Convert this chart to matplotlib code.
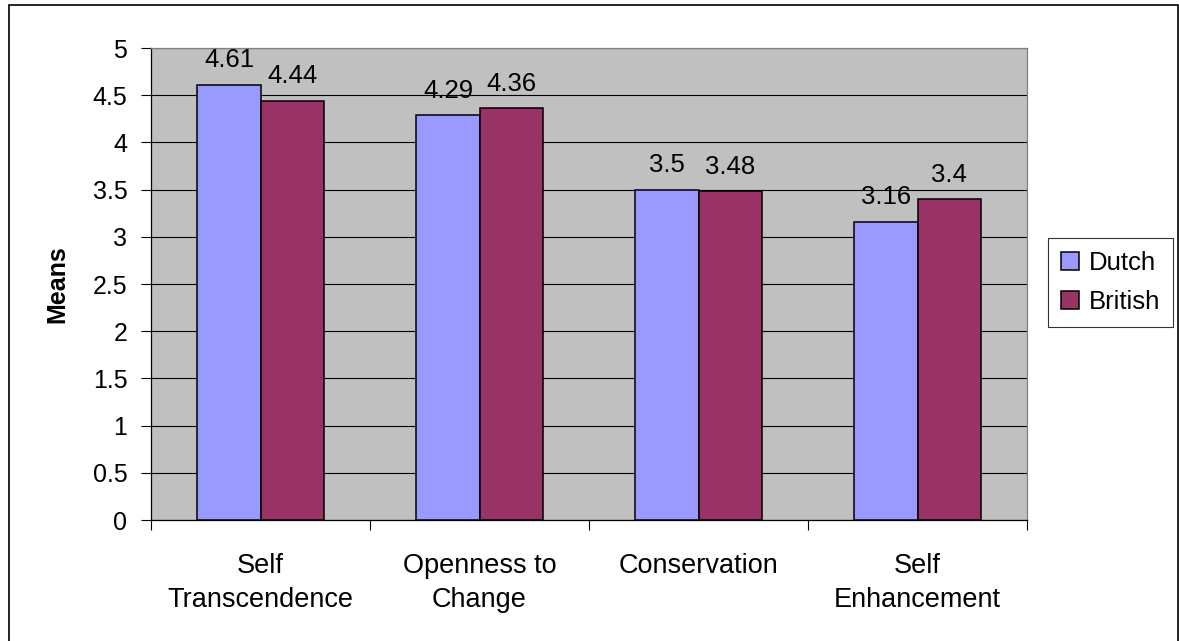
import numpy as np
import matplotlib.pyplot as plt
from matplotlib.patches import Rectangle

plt.rcParams['font.family'] = ['Liberation Sans', 'DejaVu Sans']

categories = ['Self\nTranscendence', 'Openness to\nChange', 'Conservation', 'Self\nEnhancement']
dutch = [4.61, 4.29, 3.5, 3.16]
british = [4.44, 4.36, 3.48, 3.4]
value_labels_dutch = ['4.61', '4.29', '3.5', '3.16']
value_labels_british = ['4.44', '4.36', '3.48', '3.4']
yticks = [0, 0.5, 1, 1.5, 2, 2.5, 3, 3.5, 4, 4.5, 5]
ytick_labels = ['0', '0.5', '1', '1.5', '2', '2.5', '3', '3.5', '4', '4.5', '5']

FS = 18
W, H = 1179, 641
fig = plt.figure(figsize=(W / 100, H / 100), dpi=100)
ax = fig.add_axes([151 / W, 1 - 520 / H, (1027 - 151) / W, (520 - 48) / H])

# outer chart border
fig.patches.append(Rectangle((9 / W, -0.01), (1178 - 9) / W, 1 - 5 / H + 0.01,
                             transform=fig.transFigure, fill=False,
                             edgecolor='black', linewidth=1.2))

x = np.arange(len(categories))
bw = 0.288
b1 = ax.bar(x - bw / 2, dutch, bw, color='#9999FF', edgecolor='black', linewidth=1.1,
            label='Dutch', zorder=3)
b2 = ax.bar(x + bw / 2, british, bw, color='#993366', edgecolor='black', linewidth=1.1,
            label='British', zorder=3)

for rect, txt in zip(b1, value_labels_dutch):
    ax.annotate(txt, (rect.get_x() + rect.get_width() / 2, rect.get_height()),
                xytext=(0, 9), textcoords='offset points', ha='center', va='bottom',
                fontsize=FS + 0.5)
for rect, txt in zip(b2, value_labels_british):
    ax.annotate(txt, (rect.get_x() + rect.get_width() / 2, rect.get_height()),
                xytext=(0, 9), textcoords='offset points', ha='center', va='bottom',
                fontsize=FS + 0.5)

ax.set_facecolor('#C0C0C0')
ax.set_xlim(-0.5, len(categories) - 0.5)
ax.set_ylim(0, 5)
ax.set_yticks(yticks)
ax.set_yticklabels(ytick_labels, fontsize=FS)
ax.yaxis.grid(True, color='black', linewidth=0.8, zorder=1)
ax.set_axisbelow(True)

# category ticks sit between groups, labels at group centres
ax.set_xticks(np.arange(len(categories) + 1) - 0.5)
ax.set_xticklabels([])
ax.set_xticks(x, minor=True)
ax.set_xticklabels(categories, minor=True, fontsize=19.5, linespacing=1.4)
ax.tick_params(axis='x', which='minor', length=0, pad=24)
ax.tick_params(axis='x', which='major', length=7, width=0.8, direction='out')
ax.tick_params(axis='y', length=7, width=0.8, direction='out', pad=10)

ax.spines['left'].set_color('black')
ax.spines['bottom'].set_color('black')
ax.spines['right'].set_color('#808080')
ax.spines['top'].set_color('#808080')
for s in ax.spines.values():
    s.set_linewidth(0.9)

ax.set_ylabel('Means', fontsize=FS, fontweight='bold', labelpad=17)

leg = fig.legend(handles=[b1, b2], loc='upper left',
                 bbox_to_anchor=(1048 / W, 1 - 238 / H), fontsize=FS + 0.5,
                 frameon=True, fancybox=False, handlelength=0.7, handleheight=0.7,
                 handletextpad=0.4, borderpad=0.5, labelspacing=0.6,
                 borderaxespad=0)
leg.get_frame().set_edgecolor('black')
leg.get_frame().set_linewidth(0.8)

fig.savefig('out.png', dpi=100)
